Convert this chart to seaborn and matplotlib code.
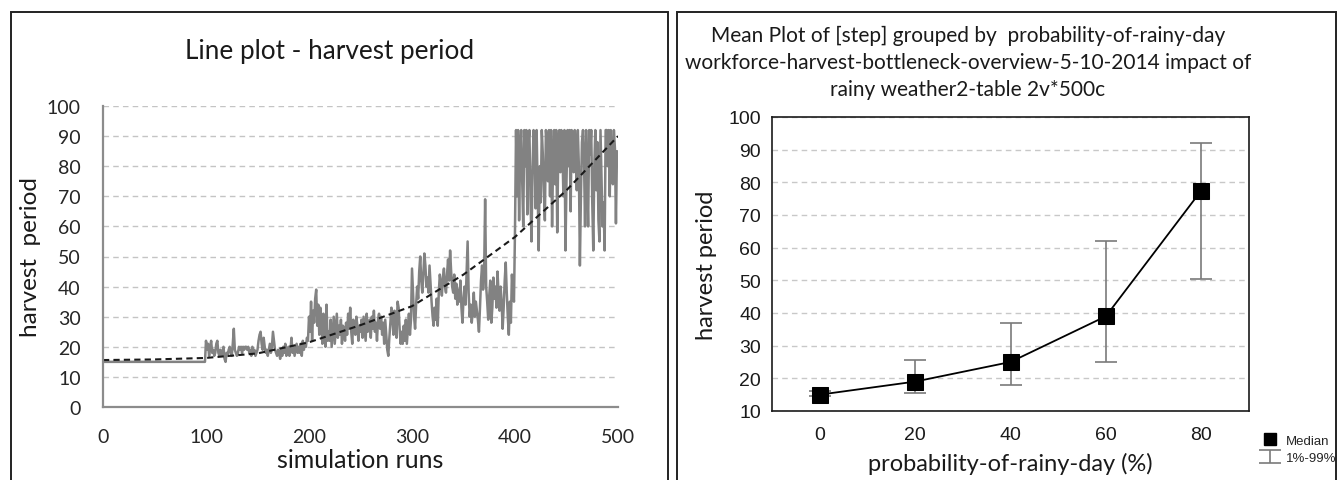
import matplotlib
matplotlib.use("Agg")
import matplotlib.pyplot as plt
from matplotlib.patches import Rectangle
from matplotlib.lines import Line2D
import seaborn as sns

# ---- left panel: harvest period per simulation run ----
runs_000_099 = [
    15, 15, 15, 15, 15, 15, 15, 15, 15, 15,
    15, 15, 15, 15, 15, 15, 15, 15, 15, 15,
    15, 15, 15, 15, 15, 15, 15, 15, 15, 15,
    15, 15, 15, 15, 15, 15, 15, 15, 15, 15,
    15, 15, 15, 15, 15, 15, 15, 15, 15, 15,
    15, 15, 15, 15, 15, 15, 15, 15, 15, 15,
    15, 15, 15, 15, 15, 15, 15, 15, 15, 15,
    15, 15, 15, 15, 15, 15, 15, 15, 15, 15,
    15, 15, 15, 15, 15, 15, 15, 15, 15, 15,
    15, 15, 15, 15, 15, 15, 15, 15, 15, 15,
]
runs_100_199 = [
    22, 19, 21, 17, 20, 22, 18, 19, 17, 18,
    21, 22, 18, 17, 19, 17, 18, 20, 16, 15,
    18, 17, 19, 20, 18, 17, 21, 26, 19, 18,
    17, 18, 20, 19, 20, 18, 20, 19, 20, 20,
    19, 20, 18, 19, 17, 20, 18, 19, 17, 18,
    19, 22, 24, 25, 21, 19, 23, 20, 18, 19,
    17, 19, 21, 18, 20, 25, 22, 19, 18, 17,
    19, 18, 16, 19, 17, 20, 18, 21, 17, 18,
    20, 17, 19, 23, 18, 20, 17, 19, 21, 18,
    20, 18, 21, 17, 22, 19, 21, 20, 23, 22,
]
runs_200_299 = [
    30, 25, 35, 22, 32, 28, 36, 39, 27, 34,
    24, 33, 28, 21, 31, 26, 20, 34, 22, 25,
    22, 29, 20, 25, 30, 21, 26, 31, 23, 27,
    24, 29, 21, 27, 25, 22, 28, 24, 31, 26,
    33, 25, 21, 29, 26, 24, 30, 27, 22, 27,
    25, 29, 23, 30, 26, 22, 31, 25, 28, 29,
    23, 30, 26, 32, 25, 28, 22, 29, 31, 26,
    30, 24, 28, 21, 29, 24, 19, 17, 23, 28,
    33, 29, 24, 32, 27, 23, 35, 33, 26, 21,
    25, 21, 27, 22, 29, 21, 26, 31, 24, 29,
]
runs_300_399 = [
    46, 38, 30, 26, 34, 40, 36, 45, 50, 42,
    38, 44, 51, 47, 40, 43, 38, 47, 41, 35,
    30, 27, 33, 29, 36, 27, 38, 44, 41, 37,
    43, 46, 40, 38, 44, 49, 42, 52, 45, 40,
    38, 44, 36, 41, 34, 39, 35, 42, 33, 28,
    36, 40, 34, 45, 55, 38, 30, 34, 28, 32,
    38, 30, 35, 32, 29, 25, 33, 42, 47, 39,
    44, 69, 40, 35, 29, 37, 42, 28, 33, 43,
    36, 40, 33, 45, 38, 32, 40, 35, 26, 33,
    42, 48, 38, 30, 24, 35, 28, 44, 38, 35,
]
runs_400_499 = [
    59, 92, 70, 92, 62, 85, 92, 75, 60, 92,
    80, 92, 64, 88, 92, 70, 55, 78, 92, 86,
    66, 92, 72, 52, 80, 68, 92, 84, 72, 62,
    92, 88, 75, 92, 70, 92, 60, 82, 92, 74,
    92, 58, 85, 92, 78, 92, 86, 70, 92, 52,
    75, 92, 80, 92, 65, 92, 88, 78, 92, 85,
    72, 92, 80, 47, 70, 88, 92, 82, 60, 92,
    75, 60, 92, 84, 92, 68, 52, 80, 92, 72,
    88, 62, 55, 92, 76, 60, 68, 52, 92, 92,
    80, 92, 70, 92, 86, 74, 92, 86, 61, 85,
]
harvest = runs_000_099 + runs_100_199 + runs_200_299 + runs_300_399 + runs_400_499
runs = list(range(len(harvest)))

# dashed trend line of the left chart
trend_runs = [0, 50, 100, 150, 200, 250, 300, 350, 400, 450, 500]
trend_values = [15.6, 15.8, 16.3, 17.8, 21.5, 27.2, 33.5, 44.0, 56.5, 72.0, 90.0]

# ---- right panel: median and 1%-99% range per rain probability ----
rain_prob = [0, 20, 40, 60, 80]
median = [15, 19, 25, 39, 77.5]
p01 = [14.5, 15.5, 18, 25, 50.5]
p99 = [16, 25.5, 37, 62, 92]

sns.set_theme(style="white")
plt.rcParams["font.family"] = ["Lato", "DejaVu Sans"]

W, H = 1337, 481
fig = plt.figure(figsize=(W / 100, H / 100), dpi=100)
fig.patch.set_facecolor("white")

# panel frames
fig.patches.append(Rectangle((11 / W, -0.02), (668 - 11) / W, (481 - 13) / H + 0.02,
                             transform=fig.transFigure, fill=False, ec="#222222", lw=1.4))
fig.patches.append(Rectangle((677 / W, -0.02), (1336 - 677) / W, (481 - 13) / H + 0.02,
                             transform=fig.transFigure, fill=False, ec="#222222", lw=1.4))

# left chart
ax1 = fig.add_axes([103 / W, 1 - 408 / H, 515 / W, 301 / H])
sns.lineplot(x=runs, y=harvest, ax=ax1, color="#828282", lw=1.8)
sns.lineplot(x=trend_runs, y=trend_values, ax=ax1, color="#1a1a1a", lw=1.5,
             linestyle=(0, (3, 2)))
ax1.set_xlim(0, 500)
ax1.set_ylim(0, 100)
ax1.set_xticks(range(0, 501, 100))
ax1.set_yticks(range(0, 101, 10))
ax1.yaxis.grid(True, color="#c4c4c4", linestyle=(0, (4, 3)), lw=1)
ax1.set_axisbelow(True)
for s in ["top", "right"]:
    ax1.spines[s].set_visible(False)
for s in ["left", "bottom"]:
    ax1.spines[s].set_color("#8c8c8c")
    ax1.spines[s].set_linewidth(1.6)
ax1.tick_params(length=0, labelsize=14, labelcolor="#262626")
ax1.tick_params(axis="x", pad=15)
ax1.tick_params(axis="y", pad=16)
ax1.set_xlabel("simulation runs", fontsize=18, color="#1a1a1a", labelpad=2)
ax1.set_ylabel("harvest  period", fontsize=17.5, color="#1a1a1a", labelpad=4)
fig.text(330 / W, 1 - 51 / H, "Line plot - harvest period", ha="center", va="center",
         fontsize=18.8, color="#1a1a1a")

# right chart
ax2 = fig.add_axes([772 / W, 1 - 412 / H, 477 / W, 294 / H])
lower = [m - lo for m, lo in zip(median, p01)]
upper = [hi - m for m, hi in zip(median, p99)]
err = ax2.errorbar(rain_prob, median, yerr=[lower, upper], fmt="none", ecolor="#7a7a7a",
                   elinewidth=1.2, capsize=8, capthick=1.2)
sns.lineplot(x=rain_prob, y=median, ax=ax2, color="black", lw=1.3, marker="s",
             markersize=11, markeredgecolor="black", markerfacecolor="black")
ax2.set_xlim(-10, 90)
ax2.set_ylim(10, 100)
ax2.set_xticks(rain_prob)
ax2.set_yticks(range(10, 101, 10))
ax2.yaxis.grid(True, color="#c8c8c8", linestyle=(0, (4, 3)), lw=1)
ax2.set_axisbelow(True)
for s in ax2.spines.values():
    s.set_color("#1a1a1a")
    s.set_linewidth(1.2)
ax2.tick_params(length=0, labelsize=14, labelcolor="#1a1a1a", pad=8)
ax2.tick_params(axis="x", pad=11)
for lab in ax2.get_xticklabels() + ax2.get_yticklabels():
    lab.set_family(["Liberation Sans", "DejaVu Sans"])
ax2.set_xlabel("probability-of-rainy-day (%)", fontsize=17, color="#1a1a1a", labelpad=6)
ax2.set_ylabel("harvest period", fontsize=17, color="#1a1a1a", labelpad=8)

title_lines = [
    "Mean Plot of [step] grouped by  probability-of-rainy-day",
    "workforce-harvest-bottleneck-overview-5-10-2014 impact of",
    "rainy weather2-table 2v*500c",
]
for i, line in enumerate(title_lines):
    fig.text(968 / W, 1 - (36 + 27 * i) / H, line, ha="center", va="center",
             fontsize=15, color="#1a1a1a")

handles = [Line2D([], [], marker="s", color="black", linestyle="none", markersize=8), err]
leg = fig.legend(handles, ["Median", "1%-99%"], loc="upper left",
                 bbox_to_anchor=(1252 / W, 1 - 424 / H), frameon=False,
                 handlelength=1.0, handletextpad=0.7, labelspacing=0.35,
                 prop={"family": ["Liberation Sans", "DejaVu Sans"], "size": 9.5})

fig.savefig("out.png", dpi=100, facecolor="white")
